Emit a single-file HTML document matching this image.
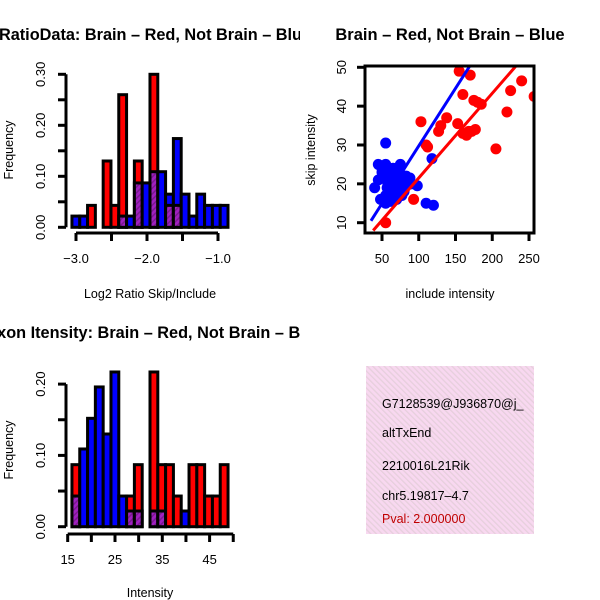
<!DOCTYPE html>
<html><head><meta charset="utf-8"><style>
body{margin:0;background:#fff}
svg{display:block;font-family:"Liberation Sans",sans-serif}
</style></head><body>
<svg id="s" width="600" height="600" viewBox="0 0 600 600">
<defs>
<pattern id="hatch" width="4" height="4" patternUnits="userSpaceOnUse" patternTransform="rotate(45)">
<rect width="4" height="4" fill="#a020c0"/><rect width="1.5" height="4" fill="#7a1a90"/>
</pattern>
<pattern id="pink" width="4" height="4" patternUnits="userSpaceOnUse" patternTransform="rotate(-45)">
<rect width="4" height="4" fill="#f8d8f0"/><rect width="1.3" height="4" fill="#e6cfdc"/>
</pattern>
<clipPath id="scClip"><rect x="365" y="66" width="169" height="167"/></clipPath>
<clipPath id="leftClip"><rect x="0" y="0" width="300" height="600"/></clipPath>
<clipPath id="boxClip"><rect x="366" y="366" width="168" height="168"/></clipPath>
</defs>
<g clip-path="url(#leftClip)">
<text x="155" y="40" text-anchor="middle" font-weight="bold" font-size="16.3">RatioData: Brain – Red, Not Brain – Blue</text>
<text x="155" y="338" text-anchor="middle" font-weight="bold" font-size="16.3">Exon Itensity: Brain – Red, Not Brain – Blue</text>
</g>
<text x="450" y="40" text-anchor="middle" font-weight="bold" font-size="16.5">Brain – Red, Not Brain – Blue</text>
<text x="150" y="298" text-anchor="middle" font-size="12.5">Log2 Ratio Skip/Include</text>
<text transform="translate(13,150) rotate(-90)" text-anchor="middle" font-size="12.5">Frequency</text>
<text x="450" y="298" text-anchor="middle" font-size="12.5">include intensity</text>
<text transform="translate(315,150) rotate(-90)" text-anchor="middle" font-size="12.5">skip intensity</text>
<text x="150" y="597" text-anchor="middle" font-size="12.5">Intensity</text>
<text transform="translate(13,450) rotate(-90)" text-anchor="middle" font-size="12.5">Frequency</text>
<g id="g1"></g>
<g id="g2"></g>
<g id="g3"></g>
<g clip-path="url(#boxClip)">
<rect x="366" y="366" width="168" height="168" fill="url(#pink)"/>
<text x="382" y="408" font-size="12.5">G7128539@J936870@j_</text>
<text x="382" y="437" font-size="12.5">altTxEnd</text>
<text x="382" y="470" font-size="12.5">2210016L21Rik</text>
<text x="382" y="500" font-size="12.5">chr5.19817–4.7</text>
<text x="382" y="523" font-size="12.5" fill="#c00000">Pval: 2.000000</text>
</g>
</svg>
<script>
const ratioRed=[0,0,.043,0,.13,.043,.26,0,.13,0,.30,0,.043,.043,0,0,0,0,0,0];
const ratioBlue=[.022,.022,0,0,0,0,.022,.022,.087,.087,.109,.109,.065,.174,.065,.022,.065,.043,.043,.043];
const ratioTicksX=[-3.0,-2.5,-2.0,-1.5,-1.0];
const ratioLabelsX=["−3.0","","−2.0","","−1.0"];
const ratioTicksY=[0,.05,.10,.15,.20,.25,.30];
const ratioLabelsY=["0.00","","0.10","","0.20","","0.30"];
const intRed=[.087,0,0,0,0,0,0,.043,.087,0,.217,.087,.087,.043,0,.087,.087,.043,.043,.087];
const intBlue=[.043,.109,.152,.196,.13,.217,.043,.022,.022,0,.022,.022,0,0,.022,0,0,0,0,0];
const intTicksX=[15,20,25,30,35,40,45,50];
const intLabelsX=["15","","25","","35","","45",""];
const intTicksY=[0,.05,.10,.15,.20];
const intLabelsY=["0.00","","0.10","","0.20"];
const redX=[55,93,103,110,112,127,130,138,153,155,160,160,165,170,172,175,177,180,185,205,220,225,240,257,168];
const redY=[10,16,36,30,29.5,33.5,35,37,35.5,49,43,33,32.5,48,33.5,41.5,34,41,40.5,29,38.5,44,46.5,42.5,33.5];
const blueX=[45,50,55,60,65,70,75,80,85,90,45,52,58,63,68,73,78,83,48,55,62,67,72,77,50,57,64,70,76,82,55,60,65,75,80,55,118,110,120,98,40,88,62,70];
const blueY=[25,24,25,23,22,24,25,22,21,20,21,22,20,21,19,23,21,22,16,17,18,16,19,17,23,19,17,16,18,20,15,22,24,20,18,30.5,26.5,15,14.5,19.5,19,21.5,15.5,22];
const lineBlue=[[35,10.5],[170,50.5]];
const lineRed=[[38,8],[233,50.5]];
const scTicksX=[50,100,150,200,250];
const scTicksY=[10,20,30,40,50];
const NS="http://www.w3.org/2000/svg";
function mk(p,tag,a){const e=document.createElementNS(NS,tag);for(const k in a)e.setAttribute(k,a[k]);p.appendChild(e);return e;}
function hist(g,red,blue,x0,bw,xs,ys,ticksX,labX,ticksY,labY,axY,axX){
  for(let i=0;i<red.length;i++){
    const xa=xs(x0+i*bw),xb=xs(x0+(i+1)*bw);
    const r=red[i],b=blue[i];
    const draw=(v,fill,nm)=>{if(v<=0)return;const e=mk(g,'rect',{x:xa,y:ys(v),width:xb-xa,height:ys(0)-ys(v),fill:fill,stroke:'#000','stroke-width':3});
      
      };
    if(r>=b){draw(r,'#ff0000','bar-red');draw(b,'url(#hatch)','bar-overlap');}
    else{draw(b,'#0000ff','bar-blue');draw(r,'url(#hatch)','bar-overlap');}
  }
  mk(g,'line',{x1:xs(ticksX[0]),x2:xs(ticksX[ticksX.length-1]),y1:axX,y2:axX,stroke:'#000','stroke-width':3});
  ticksX.forEach((t,i)=>{mk(g,'line',{x1:xs(t),x2:xs(t),y1:axX,y2:axX+8,stroke:'#000','stroke-width':3});
    if(labX[i]){const e=mk(g,'text',{x:xs(t),y:axX+30,'text-anchor':'middle','font-size':13});e.textContent=labX[i];
    
    }});
  mk(g,'line',{x1:axY,x2:axY,y1:ys(ticksY[0]),y2:ys(ticksY[ticksY.length-1]),stroke:'#000','stroke-width':3});
  ticksY.forEach((t,i)=>{mk(g,'line',{x1:axY-8,x2:axY,y1:ys(t),y2:ys(t),stroke:'#000','stroke-width':3});
    if(labY[i]){const e=mk(g,'text',{transform:`translate(${axY-21},${ys(t)}) rotate(-90)`,'text-anchor':'middle','font-size':13});e.textContent=labY[i];
    
    }});
}
const rx=v=>76+(v+3)*71, ry=v=>227.3-v*510;
hist(document.getElementById('g1'),ratioRed,ratioBlue,-3.057,0.1099,rx,ry,ratioTicksX,ratioLabelsX,ratioTicksY,ratioLabelsY,66,233);
const ix=v=>67.7+(v-15)*4.73, iy=v=>526.7-v*713;
hist(document.getElementById('g2'),intRed,intBlue,15.9,1.65,ix,iy,intTicksX,intLabelsX,intTicksY,intLabelsY,66,534);
const g3=document.getElementById('g3');
const sx=v=>382+(v-50)*0.735, sy=v=>222.7-(v-10)*3.885;
const cg=mk(g3,'g',{'clip-path':'url(#scClip)'});
blueX.forEach((v,i)=>{const e=mk(cg,'circle',{cx:sx(v),cy:sy(blueY[i]),r:5.5,fill:'#0000ff'});
  
  });
redX.forEach((v,i)=>{const e=mk(cg,'circle',{cx:sx(v),cy:sy(redY[i]),r:5.5,fill:'#ff0000'});
  
  });
const lb=mk(cg,'line',{x1:sx(lineBlue[0][0]),y1:sy(lineBlue[0][1]),x2:sx(lineBlue[1][0]),y2:sy(lineBlue[1][1]),stroke:'#0000ff','stroke-width':3});


const lr=mk(cg,'line',{x1:sx(lineRed[0][0]),y1:sy(lineRed[0][1]),x2:sx(lineRed[1][0]),y2:sy(lineRed[1][1]),stroke:'#ff0000','stroke-width':3});


mk(g3,'rect',{x:365,y:66,width:169,height:167,fill:'none',stroke:'#000','stroke-width':3});
scTicksX.forEach(t=>{mk(g3,'line',{x1:sx(t),x2:sx(t),y1:233,y2:241,stroke:'#000','stroke-width':3});
  const e=mk(g3,'text',{x:sx(t),y:263,'text-anchor':'middle','font-size':13});e.textContent=t;
  
  });
scTicksY.forEach(t=>{mk(g3,'line',{x1:357,x2:365,y1:sy(t),y2:sy(t),stroke:'#000','stroke-width':3});
  const e=mk(g3,'text',{transform:`translate(346,${sy(t)}) rotate(-90)`,'text-anchor':'middle','font-size':13});e.textContent=t;
  
  });
</script>
</body></html>
